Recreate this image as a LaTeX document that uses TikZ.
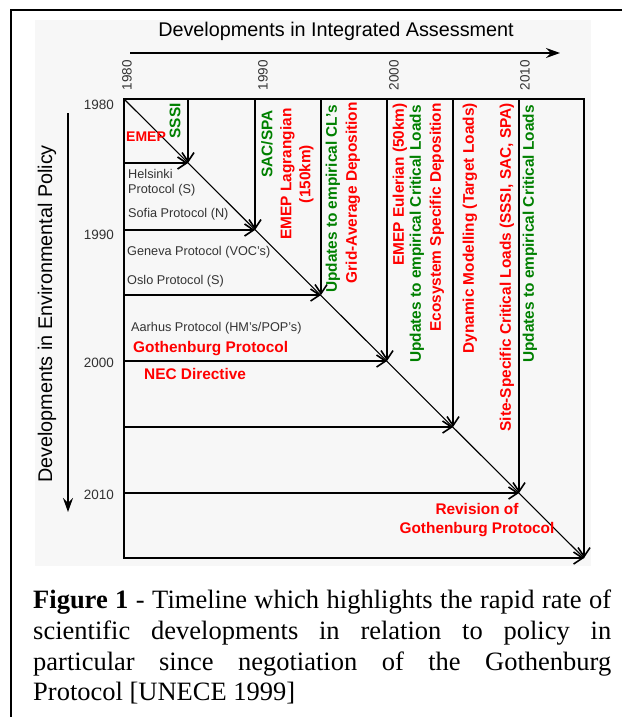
\documentclass[tikz,border=0pt]{standalone}
\usepackage{fontspec}
\setmainfont{Liberation Serif}
\setsansfont{Liberation Sans}
\usetikzlibrary{arrows.meta}
\definecolor{polRed}{HTML}{FF0000}
\definecolor{sciGreen}{HTML}{008000}
\definecolor{labGrey}{HTML}{333333}
\definecolor{panelGrey}{HTML}{F7F7F7}
\tikzset{
	blacklab/.style={inner sep=0, text=labGrey, font=\sffamily\fontsize{12.7}{15}\selectfont},
	sci/.style={inner sep=0, text=sciGreen, font=\sffamily\bfseries\fontsize{15.4}{19}\selectfont},
	pol/.style={inner sep=0, text=polRed, font=\sffamily\bfseries\fontsize{15.4}{19}\selectfont},
	yearlab/.style={inner sep=0, text=labGrey, font=\sffamily\fontsize{13.5}{16}\selectfont},
	vert/.style={rotate=90, anchor=east},
	ttl/.style={inner sep=0, font=\sffamily\fontsize{19.8}{23}\selectfont},
	axisarrow/.style={line width=1.6pt, -{Stealth[length=14pt,width=10pt,inset=5pt]}},
	tlarrow/.style={line width=1.6pt, -{Straight Barb[length=9pt,width=12pt]}}
}
\newcommand{\capfont}{\fontsize{26.5}{30.7}\selectfont}

\begin{document}
\begin{tikzpicture}[x=1pt, y=-1pt]
\useasboundingbox (0,0) rectangle (622,717);
\fill[panelGrey] (35,20) rectangle (591,566);
\draw[line width=1.8pt] (622,10) -- (11,10) -- (11,717);

% points on the diagonal, five years apart
\coordinate (d0) at (124,99);
\coordinate (d1) at (188,163);
\coordinate (d2) at (255,230);
\coordinate (d3) at (321,295);
\coordinate (d4) at (387,361);
\coordinate (d5) at (453,427);
\coordinate (d6) at (519,493);
\coordinate (d7) at (584,558);
% ends on the top and left edges
\coordinate (t1) at (188,99); \coordinate (l1) at (124,163);
\coordinate (t2) at (255,99); \coordinate (l2) at (124,230);
\coordinate (t3) at (321,99); \coordinate (l3) at (124,295);
\coordinate (t4) at (387,99); \coordinate (l4) at (124,361);
\coordinate (t5) at (453,99); \coordinate (l5) at (124,427);
\coordinate (t6) at (519,99); \coordinate (l6) at (124,493);
\coordinate (t7) at (584,99); \coordinate (l7) at (124,558);

\draw[line width=1.6pt, line cap=rect] (l7) -- (d0) -- (t7);
\draw[line width=1.1pt] (d0) -- (d7);
\path (t1) edge[tlarrow] (d1) (l1) edge[tlarrow] (d1);
\path (t2) edge[tlarrow] (d2) (l2) edge[tlarrow] (d2);
\path (t3) edge[tlarrow] (d3) (l3) edge[tlarrow] (d3);
\path (t4) edge[tlarrow] (d4) (l4) edge[tlarrow] (d4);
\path (t5) edge[tlarrow] (d5) (l5) edge[tlarrow] (d5);
\path (t6) edge[tlarrow] (d6) (l6) edge[tlarrow] (d6);
\path (t7) edge[tlarrow] (d7) (l7) edge[tlarrow] (d7);

% axes
\node[ttl] (ttlIA) at (336,31) {Developments in Integrated Assessment};
\node[ttl, rotate=90] (ttlEP) at (47,314) {Developments in Environmental Policy};
\coordinate (iaS) at (130,53); \coordinate (iaE) at (560,53);
\coordinate (epS) at (68,113); \coordinate (epE) at (68,512);
\draw[axisarrow] (iaS) -- (iaE);
\draw[axisarrow] (epS) -- (epE);

\node[yearlab, rotate=90] (ya1980) at (127,75) {1980};
\node[yearlab, rotate=90] (ya1990) at (263,75) {1990};
\node[yearlab, rotate=90] (ya2000) at (394,75) {2000};
\node[yearlab, rotate=90] (ya2010) at (525,75) {2010};
\node[yearlab, anchor=east] (yp1980) at (114,105) {1980};
\node[yearlab, anchor=east] (yp1990) at (114,235) {1990};
\node[yearlab, anchor=east] (yp2000) at (114,363) {2000};
\node[yearlab, anchor=east] (yp2010) at (114,495) {2010};

% policy side
\node[pol, font=\sffamily\bfseries\fontsize{14}{17}\selectfont] (emep) at (146,137) {EMEP};
\node[blacklab, anchor=west, align=left] (helsinki) at (128,182.5) {Helsinki\\Protocol (S)};
\node[blacklab, anchor=west] (sofia) at (128,214) {Sofia Protocol (N)};
\node[blacklab, anchor=west] (geneva) at (127,252) {Geneva Protocol (VOC's)};
\node[blacklab, anchor=west] (oslo) at (127,281) {Oslo Protocol (S)};
\node[blacklab, anchor=west] (aarhus) at (131,328) {Aarhus Protocol (HM's/POP's)};
\node[pol, anchor=west] (gothenburg) at (133,349) {Gothenburg Protocol};
\node[pol, anchor=west] (nec) at (144,374) {NEC Directive};
\node[pol, align=center] (revision) at (477,520) {Revision of\\Gothenburg Protocol};

% assessment side
\node[sci, vert] (sssi) at (175,103) {SSSI};
\node[sci, vert] (sacspa) at (267,110) {SAC/SPA};
\node[pol, rotate=90, align=center] (lagrange) at (297,174) {EMEP Lagrangian\\(150km)};
\node[sci, vert] (updcl) at (333,105) {Updates to empirical CL's};
\node[pol, vert] (gridav) at (353,102) {Grid-Average Deposition};
\node[pol, vert] (euler) at (400,103) {EMEP Eulerian (50km)};
\node[sci, vert] (updcla) at (417,105) {Updates to empirical Critical Loads};
\node[pol, vert] (ecodep) at (437,103) {Ecosystem Specific Deposition};
\node[pol, vert] (dynmod) at (470,103) {Dynamic Modelling (Target Loads)};
\node[pol, vert] (sitecl) at (507,103) {Site-Specific Critical Loads (SSSI, SAC, SPA)};
\node[sci, vert] (updclb) at (530,105) {Updates to empirical Critical Loads};

\node[inner sep=0, anchor=north west, text width=578pt, align=justify, font=\capfont] (caption) at (33,590)
 {\textbf{Figure 1} - Timeline which highlights the rapid rate of\linebreak scientific developments in relation to policy in\linebreak particular since negotiation of the Gothenburg\linebreak Protocol [UNECE 1999]};
\end{tikzpicture}
\end{document}
